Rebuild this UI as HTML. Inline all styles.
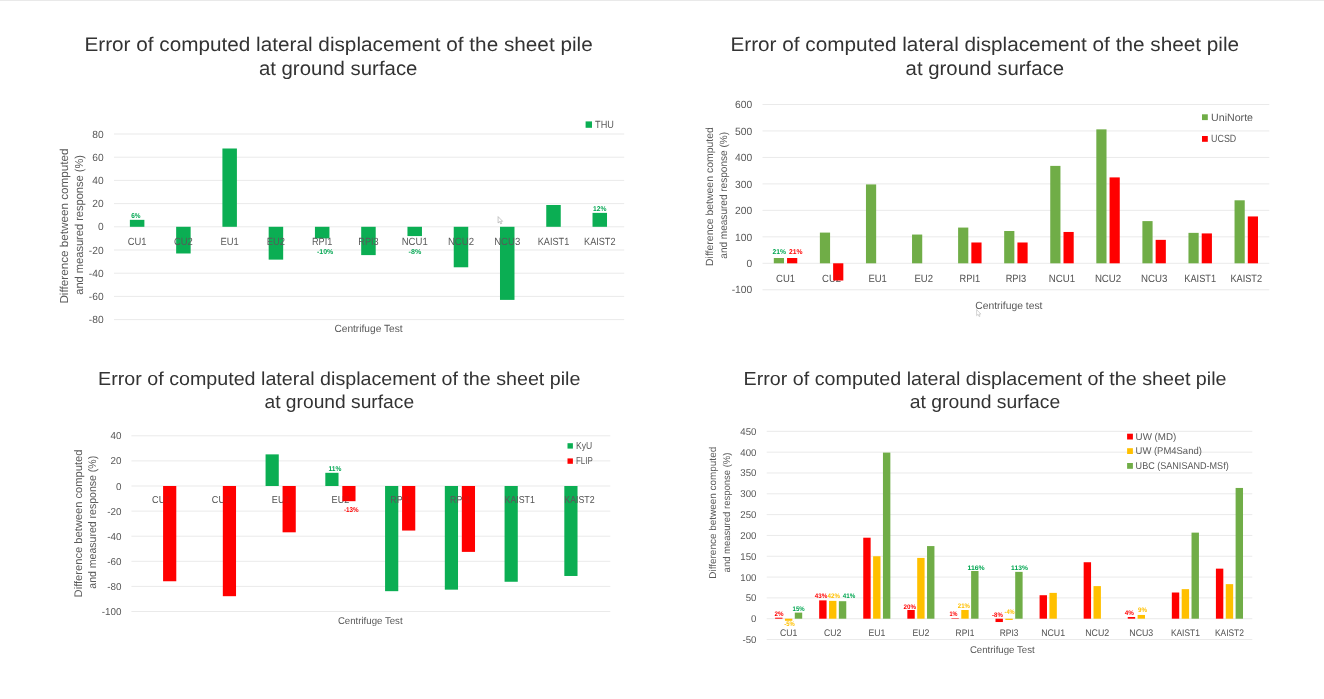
<!DOCTYPE html>
<html lang="en"><head><meta charset="utf-8"><title>Error of computed lateral displacement of the sheet pile at ground surface</title>
<style>
html,body{margin:0;padding:0;background:#fff;}
body{width:1324px;height:699px;overflow:hidden;font-family:"Liberation Sans",sans-serif;}
svg{display:block;font-family:"Liberation Sans",sans-serif;}
svg text{white-space:pre;text-rendering:geometricPrecision;}
</style></head><body>
<svg width="1324" height="699" viewBox="0 0 1324 699">
<rect x="0" y="0" width="1324" height="699" fill="#ffffff"/>
<rect x="0" y="0" width="1324" height="1" fill="#e9e9e9"/>
<text x="84.40" y="51.10" font-size="19.80" fill="#333333" textLength="508.30" lengthAdjust="spacingAndGlyphs">Error of computed lateral displacement of the sheet pile</text>
<text x="258.90" y="75.40" font-size="19.80" fill="#333333" textLength="158.50" lengthAdjust="spacingAndGlyphs">at ground surface</text>
<rect x="114.00" y="133.50" width="510.20" height="1.00" fill="#EAEAEA"/>
<rect x="114.00" y="156.70" width="510.20" height="1.00" fill="#EAEAEA"/>
<rect x="114.00" y="179.90" width="510.20" height="1.00" fill="#EAEAEA"/>
<rect x="114.00" y="203.10" width="510.20" height="1.00" fill="#EAEAEA"/>
<rect x="114.00" y="226.30" width="510.20" height="1.00" fill="#EAEAEA"/>
<rect x="114.00" y="249.50" width="510.20" height="1.00" fill="#EAEAEA"/>
<rect x="114.00" y="272.70" width="510.20" height="1.00" fill="#EAEAEA"/>
<rect x="114.00" y="295.90" width="510.20" height="1.00" fill="#EAEAEA"/>
<rect x="114.00" y="319.10" width="510.20" height="1.00" fill="#EAEAEA"/>
<text x="92.25" y="137.68" font-size="10.42" fill="#595959" textLength="11.35" lengthAdjust="spacingAndGlyphs">80</text>
<text x="92.25" y="160.88" font-size="10.42" fill="#595959" textLength="11.35" lengthAdjust="spacingAndGlyphs">60</text>
<text x="92.25" y="184.08" font-size="10.42" fill="#595959" textLength="11.35" lengthAdjust="spacingAndGlyphs">40</text>
<text x="92.25" y="207.28" font-size="10.42" fill="#595959" textLength="11.35" lengthAdjust="spacingAndGlyphs">20</text>
<text x="97.92" y="230.48" font-size="10.42" fill="#595959" textLength="5.68" lengthAdjust="spacingAndGlyphs">0</text>
<text x="88.82" y="253.68" font-size="10.42" fill="#595959" textLength="14.78" lengthAdjust="spacingAndGlyphs">-20</text>
<text x="88.82" y="276.88" font-size="10.42" fill="#595959" textLength="14.78" lengthAdjust="spacingAndGlyphs">-40</text>
<text x="88.82" y="300.08" font-size="10.42" fill="#595959" textLength="14.78" lengthAdjust="spacingAndGlyphs">-60</text>
<text x="88.82" y="323.28" font-size="10.42" fill="#595959" textLength="14.78" lengthAdjust="spacingAndGlyphs">-80</text>
<text transform="translate(67.60 303.60) rotate(-90)" x="0" y="0" font-size="11.53" fill="#595959" textLength="155.20" lengthAdjust="spacingAndGlyphs">Difference between computed</text>
<text transform="translate(82.60 294.70) rotate(-90)" x="0" y="0" font-size="11.53" fill="#595959" textLength="139.70" lengthAdjust="spacingAndGlyphs">and measured response (%)</text>
<rect x="129.88" y="219.84" width="14.50" height="6.96" fill="#0BAE53"/>
<rect x="176.15" y="226.80" width="14.50" height="26.68" fill="#0BAE53"/>
<rect x="222.41" y="148.50" width="14.50" height="78.30" fill="#0BAE53"/>
<rect x="268.67" y="226.80" width="14.50" height="32.83" fill="#0BAE53"/>
<rect x="314.94" y="226.80" width="14.50" height="11.60" fill="#0BAE53"/>
<rect x="361.20" y="226.80" width="14.50" height="28.30" fill="#0BAE53"/>
<rect x="407.46" y="226.80" width="14.50" height="9.28" fill="#0BAE53"/>
<rect x="453.73" y="226.80" width="14.50" height="40.48" fill="#0BAE53"/>
<rect x="499.99" y="226.80" width="14.50" height="73.08" fill="#0BAE53"/>
<rect x="546.25" y="204.99" width="14.50" height="21.81" fill="#0BAE53"/>
<rect x="592.52" y="212.88" width="14.50" height="13.92" fill="#0BAE53"/>
<text x="127.71" y="245.00" font-size="10.42" fill="#595959" textLength="18.83" lengthAdjust="spacingAndGlyphs">CU1</text>
<text x="173.98" y="245.00" font-size="10.42" fill="#595959" textLength="18.83" lengthAdjust="spacingAndGlyphs">CU2</text>
<text x="220.49" y="245.00" font-size="10.42" fill="#595959" textLength="18.33" lengthAdjust="spacingAndGlyphs">EU1</text>
<text x="266.76" y="245.00" font-size="10.42" fill="#595959" textLength="18.33" lengthAdjust="spacingAndGlyphs">EU2</text>
<text x="312.00" y="245.00" font-size="10.42" fill="#595959" textLength="20.37" lengthAdjust="spacingAndGlyphs">RPI1</text>
<text x="358.27" y="245.00" font-size="10.42" fill="#595959" textLength="20.37" lengthAdjust="spacingAndGlyphs">RPI3</text>
<text x="401.68" y="245.00" font-size="10.42" fill="#595959" textLength="26.06" lengthAdjust="spacingAndGlyphs">NCU1</text>
<text x="447.95" y="245.00" font-size="10.42" fill="#595959" textLength="26.06" lengthAdjust="spacingAndGlyphs">NCU2</text>
<text x="494.21" y="245.00" font-size="10.42" fill="#595959" textLength="26.06" lengthAdjust="spacingAndGlyphs">NCU3</text>
<text x="537.80" y="245.00" font-size="10.42" fill="#595959" textLength="31.40" lengthAdjust="spacingAndGlyphs">KAIST1</text>
<text x="584.07" y="245.00" font-size="10.42" fill="#595959" textLength="31.40" lengthAdjust="spacingAndGlyphs">KAIST2</text>
<text x="334.40" y="331.70" font-size="10.42" fill="#595959" textLength="68.20" lengthAdjust="spacingAndGlyphs">Centrifuge Test</text>
<rect x="585.60" y="121.40" width="6.40" height="6.40" fill="#0BAE53"/>
<text x="595.10" y="127.80" font-size="10.42" fill="#595959" textLength="18.80" lengthAdjust="spacingAndGlyphs">THU</text>
<text x="131.20" y="217.80" font-size="7.00" fill="#00A651" textLength="9.30" lengthAdjust="spacingAndGlyphs" font-weight="bold">6%</text>
<text x="317.00" y="254.00" font-size="7.00" fill="#00A651" textLength="16.30" lengthAdjust="spacingAndGlyphs" font-weight="bold">-10%</text>
<text x="408.60" y="254.00" font-size="7.00" fill="#00A651" textLength="12.60" lengthAdjust="spacingAndGlyphs" font-weight="bold">-8%</text>
<text x="593.00" y="210.60" font-size="7.00" fill="#00A651" textLength="13.40" lengthAdjust="spacingAndGlyphs" font-weight="bold">12%</text>
<text x="730.40" y="51.10" font-size="19.80" fill="#333333" textLength="508.70" lengthAdjust="spacingAndGlyphs">Error of computed lateral displacement of the sheet pile</text>
<text x="905.60" y="75.40" font-size="19.80" fill="#333333" textLength="158.40" lengthAdjust="spacingAndGlyphs">at ground surface</text>
<rect x="762.50" y="103.98" width="506.80" height="1.00" fill="#EAEAEA"/>
<rect x="762.50" y="130.45" width="506.80" height="1.00" fill="#EAEAEA"/>
<rect x="762.50" y="156.92" width="506.80" height="1.00" fill="#EAEAEA"/>
<rect x="762.50" y="183.39" width="506.80" height="1.00" fill="#EAEAEA"/>
<rect x="762.50" y="209.86" width="506.80" height="1.00" fill="#EAEAEA"/>
<rect x="762.50" y="236.33" width="506.80" height="1.00" fill="#EAEAEA"/>
<rect x="762.50" y="262.80" width="506.80" height="1.00" fill="#EAEAEA"/>
<rect x="762.50" y="289.27" width="506.80" height="1.00" fill="#EAEAEA"/>
<text x="735.12" y="108.20" font-size="10.51" fill="#595959" textLength="17.18" lengthAdjust="spacingAndGlyphs">600</text>
<text x="735.12" y="134.67" font-size="10.51" fill="#595959" textLength="17.18" lengthAdjust="spacingAndGlyphs">500</text>
<text x="735.12" y="161.14" font-size="10.51" fill="#595959" textLength="17.18" lengthAdjust="spacingAndGlyphs">400</text>
<text x="735.12" y="187.61" font-size="10.51" fill="#595959" textLength="17.18" lengthAdjust="spacingAndGlyphs">300</text>
<text x="735.12" y="214.08" font-size="10.51" fill="#595959" textLength="17.18" lengthAdjust="spacingAndGlyphs">200</text>
<text x="735.12" y="240.55" font-size="10.51" fill="#595959" textLength="17.18" lengthAdjust="spacingAndGlyphs">100</text>
<text x="746.57" y="267.02" font-size="10.51" fill="#595959" textLength="5.73" lengthAdjust="spacingAndGlyphs">0</text>
<text x="731.66" y="293.49" font-size="10.51" fill="#595959" textLength="20.64" lengthAdjust="spacingAndGlyphs">-100</text>
<text transform="translate(712.50 266.00) rotate(-90)" x="0" y="0" font-size="10.42" fill="#595959" textLength="138.90" lengthAdjust="spacingAndGlyphs">Difference between computed</text>
<text transform="translate(726.80 258.70) rotate(-90)" x="0" y="0" font-size="10.42" fill="#595959" textLength="126.70" lengthAdjust="spacingAndGlyphs">and measured response (%)</text>
<rect x="773.81" y="258.01" width="10.20" height="5.29" fill="#70AD47"/>
<rect x="819.88" y="232.59" width="10.20" height="30.71" fill="#70AD47"/>
<rect x="865.96" y="184.42" width="10.20" height="78.88" fill="#70AD47"/>
<rect x="912.03" y="234.55" width="10.20" height="28.75" fill="#70AD47"/>
<rect x="958.10" y="227.57" width="10.20" height="35.73" fill="#70AD47"/>
<rect x="1004.17" y="231.01" width="10.20" height="32.29" fill="#70AD47"/>
<rect x="1050.25" y="165.89" width="10.20" height="97.41" fill="#70AD47"/>
<rect x="1096.32" y="129.36" width="10.20" height="133.94" fill="#70AD47"/>
<rect x="1142.39" y="221.11" width="10.20" height="42.19" fill="#70AD47"/>
<rect x="1188.47" y="232.86" width="10.20" height="30.44" fill="#70AD47"/>
<rect x="1234.54" y="200.30" width="10.20" height="63.00" fill="#70AD47"/>
<text x="776.04" y="282.00" font-size="10.51" fill="#595959" textLength="19.00" lengthAdjust="spacingAndGlyphs">CU1</text>
<text x="822.11" y="282.00" font-size="10.51" fill="#595959" textLength="19.00" lengthAdjust="spacingAndGlyphs">CU2</text>
<text x="868.43" y="282.00" font-size="10.51" fill="#595959" textLength="18.49" lengthAdjust="spacingAndGlyphs">EU1</text>
<text x="914.51" y="282.00" font-size="10.51" fill="#595959" textLength="18.49" lengthAdjust="spacingAndGlyphs">EU2</text>
<text x="959.55" y="282.00" font-size="10.51" fill="#595959" textLength="20.55" lengthAdjust="spacingAndGlyphs">RPI1</text>
<text x="1005.63" y="282.00" font-size="10.51" fill="#595959" textLength="20.55" lengthAdjust="spacingAndGlyphs">RPI3</text>
<text x="1048.82" y="282.00" font-size="10.51" fill="#595959" textLength="26.30" lengthAdjust="spacingAndGlyphs">NCU1</text>
<text x="1094.90" y="282.00" font-size="10.51" fill="#595959" textLength="26.30" lengthAdjust="spacingAndGlyphs">NCU2</text>
<text x="1140.97" y="282.00" font-size="10.51" fill="#595959" textLength="26.30" lengthAdjust="spacingAndGlyphs">NCU3</text>
<text x="1184.35" y="282.00" font-size="10.51" fill="#595959" textLength="31.68" lengthAdjust="spacingAndGlyphs">KAIST1</text>
<text x="1230.42" y="282.00" font-size="10.51" fill="#595959" textLength="31.68" lengthAdjust="spacingAndGlyphs">KAIST2</text>
<rect x="787.06" y="258.01" width="10.20" height="5.29" fill="#FF0000"/>
<rect x="833.13" y="263.30" width="10.20" height="17.21" fill="#FF0000"/>
<rect x="971.35" y="242.49" width="10.20" height="20.81" fill="#FF0000"/>
<rect x="1017.42" y="242.49" width="10.20" height="20.81" fill="#FF0000"/>
<rect x="1063.50" y="231.96" width="10.20" height="31.34" fill="#FF0000"/>
<rect x="1109.57" y="177.40" width="10.20" height="85.90" fill="#FF0000"/>
<rect x="1155.64" y="239.85" width="10.20" height="23.45" fill="#FF0000"/>
<rect x="1201.72" y="233.42" width="10.20" height="29.88" fill="#FF0000"/>
<rect x="1247.79" y="216.45" width="10.20" height="46.85" fill="#FF0000"/>
<g opacity="0.18">
<text x="776.04" y="282.00" font-size="10.51" fill="#595959" textLength="19.00" lengthAdjust="spacingAndGlyphs">CU1</text>
</g>
<g opacity="0.18">
<text x="822.11" y="282.00" font-size="10.51" fill="#595959" textLength="19.00" lengthAdjust="spacingAndGlyphs">CU2</text>
</g>
<g opacity="0.18">
<text x="868.43" y="282.00" font-size="10.51" fill="#595959" textLength="18.49" lengthAdjust="spacingAndGlyphs">EU1</text>
</g>
<g opacity="0.18">
<text x="914.51" y="282.00" font-size="10.51" fill="#595959" textLength="18.49" lengthAdjust="spacingAndGlyphs">EU2</text>
</g>
<g opacity="0.18">
<text x="959.55" y="282.00" font-size="10.51" fill="#595959" textLength="20.55" lengthAdjust="spacingAndGlyphs">RPI1</text>
</g>
<g opacity="0.18">
<text x="1005.63" y="282.00" font-size="10.51" fill="#595959" textLength="20.55" lengthAdjust="spacingAndGlyphs">RPI3</text>
</g>
<g opacity="0.18">
<text x="1048.82" y="282.00" font-size="10.51" fill="#595959" textLength="26.30" lengthAdjust="spacingAndGlyphs">NCU1</text>
</g>
<g opacity="0.18">
<text x="1094.90" y="282.00" font-size="10.51" fill="#595959" textLength="26.30" lengthAdjust="spacingAndGlyphs">NCU2</text>
</g>
<g opacity="0.18">
<text x="1140.97" y="282.00" font-size="10.51" fill="#595959" textLength="26.30" lengthAdjust="spacingAndGlyphs">NCU3</text>
</g>
<g opacity="0.18">
<text x="1184.35" y="282.00" font-size="10.51" fill="#595959" textLength="31.68" lengthAdjust="spacingAndGlyphs">KAIST1</text>
</g>
<g opacity="0.18">
<text x="1230.42" y="282.00" font-size="10.51" fill="#595959" textLength="31.68" lengthAdjust="spacingAndGlyphs">KAIST2</text>
</g>
<text x="975.20" y="309.00" font-size="10.42" fill="#595959" textLength="67.30" lengthAdjust="spacingAndGlyphs">Centrifuge test</text>
<rect x="1202.00" y="114.30" width="5.80" height="5.80" fill="#70AD47"/>
<text x="1211.10" y="120.80" font-size="10.51" fill="#595959" textLength="41.90" lengthAdjust="spacingAndGlyphs">UniNorte</text>
<rect x="1202.00" y="136.00" width="5.80" height="5.80" fill="#FF0000"/>
<text x="1211.10" y="142.20" font-size="10.51" fill="#595959" textLength="25.20" lengthAdjust="spacingAndGlyphs">UCSD</text>
<text x="772.60" y="254.30" font-size="7.00" fill="#00A651" textLength="13.50" lengthAdjust="spacingAndGlyphs" font-weight="bold">21%</text>
<text x="789.00" y="254.30" font-size="7.00" fill="#FF0000" textLength="13.50" lengthAdjust="spacingAndGlyphs" font-weight="bold">21%</text>
<text x="98.10" y="384.50" font-size="18.80" fill="#333333" textLength="482.30" lengthAdjust="spacingAndGlyphs">Error of computed lateral displacement of the sheet pile</text>
<text x="264.50" y="408.30" font-size="18.80" fill="#333333" textLength="149.60" lengthAdjust="spacingAndGlyphs">at ground surface</text>
<rect x="131.40" y="435.30" width="478.90" height="1.00" fill="#EAEAEA"/>
<rect x="131.40" y="460.40" width="478.90" height="1.00" fill="#EAEAEA"/>
<rect x="131.40" y="485.50" width="478.90" height="1.00" fill="#EAEAEA"/>
<rect x="131.40" y="510.60" width="478.90" height="1.00" fill="#EAEAEA"/>
<rect x="131.40" y="535.70" width="478.90" height="1.00" fill="#EAEAEA"/>
<rect x="131.40" y="560.80" width="478.90" height="1.00" fill="#EAEAEA"/>
<rect x="131.40" y="585.90" width="478.90" height="1.00" fill="#EAEAEA"/>
<rect x="131.40" y="611.00" width="478.90" height="1.00" fill="#EAEAEA"/>
<text x="110.45" y="439.36" font-size="10.04" fill="#595959" textLength="10.95" lengthAdjust="spacingAndGlyphs">40</text>
<text x="110.45" y="464.46" font-size="10.04" fill="#595959" textLength="10.95" lengthAdjust="spacingAndGlyphs">20</text>
<text x="115.93" y="489.56" font-size="10.04" fill="#595959" textLength="5.47" lengthAdjust="spacingAndGlyphs">0</text>
<text x="107.15" y="514.66" font-size="10.04" fill="#595959" textLength="14.25" lengthAdjust="spacingAndGlyphs">-20</text>
<text x="107.15" y="539.76" font-size="10.04" fill="#595959" textLength="14.25" lengthAdjust="spacingAndGlyphs">-40</text>
<text x="107.15" y="564.86" font-size="10.04" fill="#595959" textLength="14.25" lengthAdjust="spacingAndGlyphs">-60</text>
<text x="107.15" y="589.96" font-size="10.04" fill="#595959" textLength="14.25" lengthAdjust="spacingAndGlyphs">-80</text>
<text x="101.67" y="615.06" font-size="10.04" fill="#595959" textLength="19.73" lengthAdjust="spacingAndGlyphs">-100</text>
<text transform="translate(81.70 597.40) rotate(-90)" x="0" y="0" font-size="10.97" fill="#595959" textLength="147.90" lengthAdjust="spacingAndGlyphs">Difference between computed</text>
<text transform="translate(96.40 588.70) rotate(-90)" x="0" y="0" font-size="10.97" fill="#595959" textLength="132.90" lengthAdjust="spacingAndGlyphs">and measured response (%)</text>
<rect x="265.57" y="454.37" width="13.20" height="31.63" fill="#0BAE53"/>
<rect x="325.32" y="472.82" width="13.20" height="13.18" fill="#0BAE53"/>
<rect x="385.07" y="486.00" width="13.20" height="105.17" fill="#0BAE53"/>
<rect x="444.82" y="486.00" width="13.20" height="103.66" fill="#0BAE53"/>
<rect x="504.57" y="486.00" width="13.20" height="95.76" fill="#0BAE53"/>
<rect x="564.32" y="486.00" width="13.20" height="89.98" fill="#0BAE53"/>
<text x="152.09" y="503.00" font-size="10.04" fill="#595959" textLength="18.16" lengthAdjust="spacingAndGlyphs">CU1</text>
<text x="211.84" y="503.00" font-size="10.04" fill="#595959" textLength="18.16" lengthAdjust="spacingAndGlyphs">CU2</text>
<text x="271.84" y="503.00" font-size="10.04" fill="#595959" textLength="17.68" lengthAdjust="spacingAndGlyphs">EU1</text>
<text x="331.59" y="503.00" font-size="10.04" fill="#595959" textLength="17.68" lengthAdjust="spacingAndGlyphs">EU2</text>
<text x="390.36" y="503.00" font-size="10.04" fill="#595959" textLength="19.64" lengthAdjust="spacingAndGlyphs">RPI1</text>
<text x="450.11" y="503.00" font-size="10.04" fill="#595959" textLength="19.64" lengthAdjust="spacingAndGlyphs">RPI3</text>
<text x="504.53" y="503.00" font-size="10.04" fill="#595959" textLength="30.28" lengthAdjust="spacingAndGlyphs">KAIST1</text>
<text x="564.28" y="503.00" font-size="10.04" fill="#595959" textLength="30.28" lengthAdjust="spacingAndGlyphs">KAIST2</text>
<rect x="163.08" y="486.00" width="13.20" height="95.25" fill="#FF0000"/>
<rect x="222.83" y="486.00" width="13.20" height="110.19" fill="#FF0000"/>
<rect x="282.57" y="486.00" width="13.20" height="46.31" fill="#FF0000"/>
<rect x="342.32" y="486.00" width="13.20" height="15.19" fill="#FF0000"/>
<rect x="402.07" y="486.00" width="13.20" height="44.55" fill="#FF0000"/>
<rect x="461.82" y="486.00" width="13.20" height="65.89" fill="#FF0000"/>
<g opacity="0.18">
<text x="152.09" y="503.00" font-size="10.04" fill="#595959" textLength="18.16" lengthAdjust="spacingAndGlyphs">CU1</text>
</g>
<g opacity="0.18">
<text x="211.84" y="503.00" font-size="10.04" fill="#595959" textLength="18.16" lengthAdjust="spacingAndGlyphs">CU2</text>
</g>
<g opacity="0.18">
<text x="271.84" y="503.00" font-size="10.04" fill="#595959" textLength="17.68" lengthAdjust="spacingAndGlyphs">EU1</text>
</g>
<g opacity="0.18">
<text x="331.59" y="503.00" font-size="10.04" fill="#595959" textLength="17.68" lengthAdjust="spacingAndGlyphs">EU2</text>
</g>
<g opacity="0.18">
<text x="390.36" y="503.00" font-size="10.04" fill="#595959" textLength="19.64" lengthAdjust="spacingAndGlyphs">RPI1</text>
</g>
<g opacity="0.18">
<text x="450.11" y="503.00" font-size="10.04" fill="#595959" textLength="19.64" lengthAdjust="spacingAndGlyphs">RPI3</text>
</g>
<g opacity="0.18">
<text x="504.53" y="503.00" font-size="10.04" fill="#595959" textLength="30.28" lengthAdjust="spacingAndGlyphs">KAIST1</text>
</g>
<g opacity="0.18">
<text x="564.28" y="503.00" font-size="10.04" fill="#595959" textLength="30.28" lengthAdjust="spacingAndGlyphs">KAIST2</text>
</g>
<text x="337.90" y="623.60" font-size="9.86" fill="#595959" textLength="64.70" lengthAdjust="spacingAndGlyphs">Centrifuge Test</text>
<rect x="567.50" y="443.20" width="5.40" height="5.40" fill="#0BAE53"/>
<text x="576.00" y="448.50" font-size="10.04" fill="#595959" textLength="16.20" lengthAdjust="spacingAndGlyphs">KyU</text>
<rect x="567.50" y="458.40" width="5.40" height="5.40" fill="#FF0000"/>
<text x="576.00" y="464.00" font-size="10.04" fill="#595959" textLength="16.80" lengthAdjust="spacingAndGlyphs">FLIP</text>
<text x="328.40" y="471.00" font-size="7.00" fill="#00A651" textLength="12.90" lengthAdjust="spacingAndGlyphs" font-weight="bold">11%</text>
<text x="344.00" y="512.00" font-size="7.00" fill="#FF0000" textLength="14.60" lengthAdjust="spacingAndGlyphs" font-weight="bold">-13%</text>
<text x="743.60" y="384.50" font-size="18.80" fill="#333333" textLength="482.90" lengthAdjust="spacingAndGlyphs">Error of computed lateral displacement of the sheet pile</text>
<text x="909.80" y="408.30" font-size="18.80" fill="#333333" textLength="150.40" lengthAdjust="spacingAndGlyphs">at ground surface</text>
<rect x="766.70" y="430.82" width="485.60" height="1.00" fill="#EAEAEA"/>
<rect x="766.70" y="451.64" width="485.60" height="1.00" fill="#EAEAEA"/>
<rect x="766.70" y="472.46" width="485.60" height="1.00" fill="#EAEAEA"/>
<rect x="766.70" y="493.28" width="485.60" height="1.00" fill="#EAEAEA"/>
<rect x="766.70" y="514.10" width="485.60" height="1.00" fill="#EAEAEA"/>
<rect x="766.70" y="534.92" width="485.60" height="1.00" fill="#EAEAEA"/>
<rect x="766.70" y="555.74" width="485.60" height="1.00" fill="#EAEAEA"/>
<rect x="766.70" y="576.56" width="485.60" height="1.00" fill="#EAEAEA"/>
<rect x="766.70" y="597.38" width="485.60" height="1.00" fill="#EAEAEA"/>
<rect x="766.70" y="618.20" width="485.60" height="1.00" fill="#EAEAEA"/>
<rect x="766.70" y="639.02" width="485.60" height="1.00" fill="#EAEAEA"/>
<text x="740.28" y="434.81" font-size="9.86" fill="#595959" textLength="16.12" lengthAdjust="spacingAndGlyphs">450</text>
<text x="740.28" y="455.63" font-size="9.86" fill="#595959" textLength="16.12" lengthAdjust="spacingAndGlyphs">400</text>
<text x="740.28" y="476.45" font-size="9.86" fill="#595959" textLength="16.12" lengthAdjust="spacingAndGlyphs">350</text>
<text x="740.28" y="497.27" font-size="9.86" fill="#595959" textLength="16.12" lengthAdjust="spacingAndGlyphs">300</text>
<text x="740.28" y="518.09" font-size="9.86" fill="#595959" textLength="16.12" lengthAdjust="spacingAndGlyphs">250</text>
<text x="740.28" y="538.91" font-size="9.86" fill="#595959" textLength="16.12" lengthAdjust="spacingAndGlyphs">200</text>
<text x="740.28" y="559.73" font-size="9.86" fill="#595959" textLength="16.12" lengthAdjust="spacingAndGlyphs">150</text>
<text x="740.28" y="580.55" font-size="9.86" fill="#595959" textLength="16.12" lengthAdjust="spacingAndGlyphs">100</text>
<text x="745.66" y="601.37" font-size="9.86" fill="#595959" textLength="10.74" lengthAdjust="spacingAndGlyphs">50</text>
<text x="751.03" y="622.19" font-size="9.86" fill="#595959" textLength="5.37" lengthAdjust="spacingAndGlyphs">0</text>
<text x="742.41" y="643.01" font-size="9.86" fill="#595959" textLength="13.99" lengthAdjust="spacingAndGlyphs">-50</text>
<text transform="translate(715.60 578.70) rotate(-90)" x="0" y="0" font-size="9.86" fill="#595959" textLength="131.90" lengthAdjust="spacingAndGlyphs">Difference between computed</text>
<text transform="translate(729.50 572.40) rotate(-90)" x="0" y="0" font-size="9.86" fill="#595959" textLength="119.90" lengthAdjust="spacingAndGlyphs">and measured response (%)</text>
<rect x="784.94" y="618.70" width="7.40" height="2.08" fill="#FFC000"/>
<rect x="794.79" y="612.62" width="7.40" height="6.08" fill="#70AD47"/>
<rect x="829.02" y="600.88" width="7.40" height="17.82" fill="#FFC000"/>
<rect x="838.87" y="601.21" width="7.40" height="17.49" fill="#70AD47"/>
<rect x="873.10" y="556.24" width="7.40" height="62.46" fill="#FFC000"/>
<rect x="882.95" y="452.60" width="7.40" height="166.10" fill="#70AD47"/>
<rect x="917.19" y="557.91" width="7.40" height="60.79" fill="#FFC000"/>
<rect x="927.04" y="546.08" width="7.40" height="72.62" fill="#70AD47"/>
<rect x="961.27" y="610.00" width="7.40" height="8.70" fill="#FFC000"/>
<rect x="971.12" y="570.98" width="7.40" height="47.72" fill="#70AD47"/>
<rect x="1005.35" y="618.70" width="7.40" height="1.25" fill="#FFC000"/>
<rect x="1015.20" y="571.86" width="7.40" height="46.85" fill="#70AD47"/>
<rect x="1049.43" y="592.88" width="7.40" height="25.82" fill="#FFC000"/>
<rect x="1093.51" y="586.10" width="7.40" height="32.60" fill="#FFC000"/>
<rect x="1137.60" y="614.95" width="7.40" height="3.75" fill="#FFC000"/>
<rect x="1181.68" y="589.14" width="7.40" height="29.56" fill="#FFC000"/>
<rect x="1191.53" y="532.63" width="7.40" height="86.07" fill="#70AD47"/>
<rect x="1225.76" y="584.14" width="7.40" height="34.56" fill="#FFC000"/>
<rect x="1235.61" y="487.95" width="7.40" height="130.75" fill="#70AD47"/>
<text x="779.98" y="635.60" font-size="9.58" fill="#595959" textLength="17.32" lengthAdjust="spacingAndGlyphs">CU1</text>
<text x="824.06" y="635.60" font-size="9.58" fill="#595959" textLength="17.32" lengthAdjust="spacingAndGlyphs">CU2</text>
<text x="868.38" y="635.60" font-size="9.58" fill="#595959" textLength="16.86" lengthAdjust="spacingAndGlyphs">EU1</text>
<text x="912.46" y="635.60" font-size="9.58" fill="#595959" textLength="16.86" lengthAdjust="spacingAndGlyphs">EU2</text>
<text x="955.60" y="635.60" font-size="9.58" fill="#595959" textLength="18.73" lengthAdjust="spacingAndGlyphs">RPI1</text>
<text x="999.69" y="635.60" font-size="9.58" fill="#595959" textLength="18.73" lengthAdjust="spacingAndGlyphs">RPI3</text>
<text x="1041.15" y="635.60" font-size="9.58" fill="#595959" textLength="23.97" lengthAdjust="spacingAndGlyphs">NCU1</text>
<text x="1085.23" y="635.60" font-size="9.58" fill="#595959" textLength="23.97" lengthAdjust="spacingAndGlyphs">NCU2</text>
<text x="1129.31" y="635.60" font-size="9.58" fill="#595959" textLength="23.97" lengthAdjust="spacingAndGlyphs">NCU3</text>
<text x="1170.94" y="635.60" font-size="9.58" fill="#595959" textLength="28.88" lengthAdjust="spacingAndGlyphs">KAIST1</text>
<text x="1215.02" y="635.60" font-size="9.58" fill="#595959" textLength="28.88" lengthAdjust="spacingAndGlyphs">KAIST2</text>
<rect x="775.09" y="617.70" width="7.40" height="1.00" fill="#FF0000"/>
<rect x="819.17" y="600.38" width="7.40" height="18.32" fill="#FF0000"/>
<rect x="863.25" y="537.71" width="7.40" height="80.99" fill="#FF0000"/>
<rect x="907.34" y="610.00" width="7.40" height="8.70" fill="#FF0000"/>
<rect x="951.42" y="618.20" width="7.40" height="0.50" fill="#FF0000"/>
<rect x="995.50" y="618.70" width="7.40" height="3.33" fill="#FF0000"/>
<rect x="1039.58" y="595.22" width="7.40" height="23.48" fill="#FF0000"/>
<rect x="1083.66" y="562.24" width="7.40" height="56.46" fill="#FF0000"/>
<rect x="1127.75" y="617.03" width="7.40" height="1.67" fill="#FF0000"/>
<rect x="1171.83" y="592.51" width="7.40" height="26.19" fill="#FF0000"/>
<rect x="1215.91" y="568.65" width="7.40" height="50.05" fill="#FF0000"/>
<g opacity="0.18">
<text x="779.98" y="635.60" font-size="9.58" fill="#595959" textLength="17.32" lengthAdjust="spacingAndGlyphs">CU1</text>
</g>
<g opacity="0.18">
<text x="824.06" y="635.60" font-size="9.58" fill="#595959" textLength="17.32" lengthAdjust="spacingAndGlyphs">CU2</text>
</g>
<g opacity="0.18">
<text x="868.38" y="635.60" font-size="9.58" fill="#595959" textLength="16.86" lengthAdjust="spacingAndGlyphs">EU1</text>
</g>
<g opacity="0.18">
<text x="912.46" y="635.60" font-size="9.58" fill="#595959" textLength="16.86" lengthAdjust="spacingAndGlyphs">EU2</text>
</g>
<g opacity="0.18">
<text x="955.60" y="635.60" font-size="9.58" fill="#595959" textLength="18.73" lengthAdjust="spacingAndGlyphs">RPI1</text>
</g>
<g opacity="0.18">
<text x="999.69" y="635.60" font-size="9.58" fill="#595959" textLength="18.73" lengthAdjust="spacingAndGlyphs">RPI3</text>
</g>
<g opacity="0.18">
<text x="1041.15" y="635.60" font-size="9.58" fill="#595959" textLength="23.97" lengthAdjust="spacingAndGlyphs">NCU1</text>
</g>
<g opacity="0.18">
<text x="1085.23" y="635.60" font-size="9.58" fill="#595959" textLength="23.97" lengthAdjust="spacingAndGlyphs">NCU2</text>
</g>
<g opacity="0.18">
<text x="1129.31" y="635.60" font-size="9.58" fill="#595959" textLength="23.97" lengthAdjust="spacingAndGlyphs">NCU3</text>
</g>
<g opacity="0.18">
<text x="1170.94" y="635.60" font-size="9.58" fill="#595959" textLength="28.88" lengthAdjust="spacingAndGlyphs">KAIST1</text>
</g>
<g opacity="0.18">
<text x="1215.02" y="635.60" font-size="9.58" fill="#595959" textLength="28.88" lengthAdjust="spacingAndGlyphs">KAIST2</text>
</g>
<text x="969.90" y="653.10" font-size="9.86" fill="#595959" textLength="64.80" lengthAdjust="spacingAndGlyphs">Centrifuge Test</text>
<rect x="1127.10" y="433.70" width="5.80" height="5.80" fill="#FF0000"/>
<text x="1135.60" y="439.80" font-size="9.86" fill="#595959" textLength="40.70" lengthAdjust="spacingAndGlyphs">UW (MD)</text>
<rect x="1127.10" y="448.20" width="5.80" height="5.80" fill="#FFC000"/>
<text x="1135.60" y="454.30" font-size="9.86" fill="#595959" textLength="66.20" lengthAdjust="spacingAndGlyphs">UW (PM4Sand)</text>
<rect x="1127.10" y="463.00" width="5.80" height="5.80" fill="#70AD47"/>
<text x="1135.60" y="469.00" font-size="9.86" fill="#595959" textLength="93.10" lengthAdjust="spacingAndGlyphs">UBC (SANISAND-MSf)</text>
<text x="774.50" y="616.40" font-size="6.60" fill="#FF0000" textLength="9.00" lengthAdjust="spacingAndGlyphs" font-weight="bold">2%</text>
<text x="784.20" y="626.10" font-size="6.60" fill="#FFC000" textLength="10.40" lengthAdjust="spacingAndGlyphs" font-weight="bold">-5%</text>
<text x="792.60" y="611.00" font-size="6.60" fill="#00A651" textLength="12.10" lengthAdjust="spacingAndGlyphs" font-weight="bold">15%</text>
<text x="814.80" y="598.30" font-size="6.60" fill="#FF0000" textLength="12.50" lengthAdjust="spacingAndGlyphs" font-weight="bold">43%</text>
<text x="827.60" y="598.30" font-size="6.60" fill="#FFC000" textLength="12.40" lengthAdjust="spacingAndGlyphs" font-weight="bold">42%</text>
<text x="842.70" y="598.30" font-size="6.60" fill="#00A651" textLength="12.50" lengthAdjust="spacingAndGlyphs" font-weight="bold">41%</text>
<text x="903.60" y="609.00" font-size="6.60" fill="#FF0000" textLength="12.50" lengthAdjust="spacingAndGlyphs" font-weight="bold">20%</text>
<text x="949.40" y="616.40" font-size="6.60" fill="#FF0000" textLength="8.00" lengthAdjust="spacingAndGlyphs" font-weight="bold">1%</text>
<text x="957.80" y="608.30" font-size="6.60" fill="#FFC000" textLength="12.10" lengthAdjust="spacingAndGlyphs" font-weight="bold">21%</text>
<text x="967.50" y="569.60" font-size="6.60" fill="#00A651" textLength="17.20" lengthAdjust="spacingAndGlyphs" font-weight="bold">116%</text>
<text x="992.10" y="617.10" font-size="6.60" fill="#FF0000" textLength="10.80" lengthAdjust="spacingAndGlyphs" font-weight="bold">-8%</text>
<text x="1004.50" y="614.40" font-size="6.60" fill="#FFC000" textLength="10.10" lengthAdjust="spacingAndGlyphs" font-weight="bold">-4%</text>
<text x="1011.10" y="569.60" font-size="6.60" fill="#00A651" textLength="16.80" lengthAdjust="spacingAndGlyphs" font-weight="bold">113%</text>
<text x="1124.80" y="614.70" font-size="6.60" fill="#FF0000" textLength="9.10" lengthAdjust="spacingAndGlyphs" font-weight="bold">4%</text>
<text x="1137.90" y="612.40" font-size="6.60" fill="#FFC000" textLength="9.10" lengthAdjust="spacingAndGlyphs" font-weight="bold">9%</text>
<polygon points="498.10,216.60 498.10,223.00 499.60,221.60 500.70,223.90 501.70,223.50 500.60,221.30 502.60,221.30" fill="#ffffff" stroke="#8a8a8a" stroke-width="0.6" opacity="0.8"/>
<polygon points="976.60,309.60 976.60,315.68 978.02,314.35 979.07,316.54 980.02,316.16 978.98,314.06 980.88,314.06" fill="#ffffff" stroke="#8a8a8a" stroke-width="0.6" opacity="0.6"/>
</svg>
</body></html>
